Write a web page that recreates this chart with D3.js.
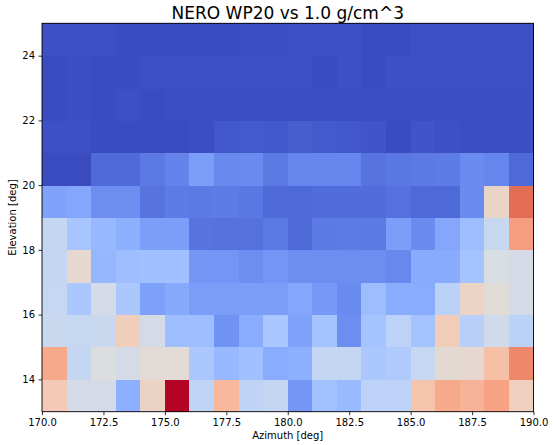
<!DOCTYPE html>
<html>
<head>
<meta charset="utf-8">
<script src="https://cdn.jsdelivr.net/npm/d3@7"></script>
<style>
  html, body { margin: 0; padding: 0; background: #fff; }
  svg { display: block; font-family: "DejaVu Sans", sans-serif; }
</style>
</head>
<body>
<svg id="chart" width="555" height="445"></svg>
<script>
// ---- data (normalized colour values) ----
const title = "NERO WP20 vs 1.0 g/cm^3";
const xLabel = "Azimuth [deg]";
const yLabel = "Elevation [deg]";
const azimuthBins = [170,171,172,173,174,175,176,177,178,179,180,181,182,183,184,185,186,187,188,189];
const elevationBins = [13,14,15,16,17,18,19,20,21,22,23,24];
const xTicks = [170, 172.5, 175, 177.5, 180, 182.5, 185, 187.5, 190];
const yTicks = [14, 16, 18, 20, 22, 24];
// rows listed bottom (13-14) to top (24-25)
const values = [
  [0.60,0.465,0.465,0.25,0.565,1.00,0.40,0.665,0.395,0.415,0.18,0.31,0.285,0.39,0.39,0.625,0.71,0.68,0.73,0.58],
  [0.71,0.415,0.495,0.47,0.52,0.52,0.335,0.28,0.305,0.24,0.25,0.415,0.415,0.335,0.35,0.42,0.525,0.535,0.64,0.795],
  [0.43,0.42,0.43,0.585,0.465,0.295,0.30,0.17,0.24,0.33,0.21,0.315,0.155,0.315,0.39,0.315,0.595,0.375,0.45,0.385],
  [0.42,0.335,0.465,0.335,0.205,0.23,0.195,0.195,0.195,0.195,0.225,0.185,0.15,0.295,0.24,0.24,0.38,0.56,0.515,0.465],
  [0.415,0.535,0.275,0.30,0.305,0.305,0.18,0.175,0.155,0.175,0.155,0.155,0.155,0.155,0.14,0.235,0.235,0.315,0.48,0.47],
  [0.415,0.325,0.28,0.25,0.20,0.20,0.09,0.085,0.085,0.105,0.065,0.105,0.11,0.105,0.20,0.15,0.225,0.295,0.425,0.74],
  [0.21,0.225,0.155,0.155,0.09,0.11,0.105,0.11,0.10,0.07,0.065,0.075,0.075,0.075,0.085,0.065,0.065,0.15,0.555,0.85],
  [0.0,0.0,0.07,0.07,0.105,0.13,0.20,0.145,0.15,0.105,0.135,0.135,0.135,0.09,0.10,0.105,0.11,0.15,0.135,0.065],
  [0.01,0.01,0.0,0.0,0.0,0.0,0.005,0.025,0.03,0.025,0.04,0.03,0.025,0.02,0.0,0.02,0.01,0.005,0.005,0.005],
  [0.0,0.005,0.0,0.01,0.0,0.005,0.005,0.005,0.005,0.005,0.005,0.005,0.005,0.005,0.005,0.005,0.005,0.005,0.005,0.005],
  [0.0,0.005,0.0,0.0,0.01,0.01,0.01,0.01,0.01,0.01,0.01,0.0,0.01,0.0,0.01,0.01,0.01,0.01,0.01,0.01],
  [0.01,0.01,0.01,0.0,0.0,0.0,0.0,0.0,0.005,0.005,0.01,0.01,0.01,0.0,0.0,0.01,0.01,0.01,0.01,0.01]
];
// coolwarm colormap stops
const cmapStops = [0,0.03125,0.0625,0.09375,0.125,0.15625,0.1875,0.21875,0.25,0.28125,0.3125,0.34375,0.375,0.40625,0.4375,0.46875,0.5,0.53125,0.5625,0.59375,0.625,0.65625,0.6875,0.71875,0.75,0.78125,0.8125,0.84375,0.875,0.90625,0.9375,0.96875,1];
const cmapColors = ["rgb(59,76,192)","rgb(68,90,204)","rgb(77,104,215)","rgb(87,117,225)","rgb(98,130,234)","rgb(108,142,241)","rgb(119,154,247)","rgb(130,165,251)","rgb(141,176,254)","rgb(152,185,255)","rgb(163,194,255)","rgb(174,201,253)","rgb(184,208,249)","rgb(194,213,244)","rgb(204,217,238)","rgb(213,219,230)","rgb(221,221,221)","rgb(229,216,209)","rgb(236,211,197)","rgb(241,204,185)","rgb(245,196,173)","rgb(247,187,160)","rgb(247,177,148)","rgb(247,166,135)","rgb(244,154,123)","rgb(241,141,111)","rgb(236,127,99)","rgb(229,112,88)","rgb(222,96,77)","rgb(213,80,66)","rgb(203,62,56)","rgb(192,40,47)","rgb(180,4,38)"];

// ---- layout ----
const mLeft = 42, mRight = 533.5, mTop = 23.3, mBottom = 411.7;
const svg = d3.select("#chart");
const x = d3.scaleLinear().domain([170, 190]).range([mLeft, mRight]);
const y = d3.scaleLinear().domain([13, 25]).range([mBottom, mTop]);
const color = d3.scaleLinear().domain(cmapStops).range(cmapColors).interpolate(d3.interpolateRgb).clamp(true);

const cells = [];
values.forEach((row, j) => row.forEach((v, i) => cells.push({az: azimuthBins[i], el: elevationBins[j], v})));

svg.append("g").selectAll("rect").data(cells).join("rect")
  .attr("x", d => x(d.az))
  .attr("y", d => y(d.el + 1))
  .attr("width", d => x(d.az + 1) - x(d.az) + 0.5)
  .attr("height", d => y(d.el) - y(d.el + 1) + 0.5)
  .attr("fill", d => color(d.v))
  .attr("shape-rendering", "crispEdges");

// frame
svg.append("rect").attr("x", mLeft).attr("y", mTop)
  .attr("width", mRight - mLeft).attr("height", mBottom - mTop)
  .attr("fill", "none").attr("stroke", "#000").attr("stroke-width", 0.9);

// axes
const xAxis = d3.axisBottom(x).tickValues(xTicks).tickFormat(d3.format(".1f")).tickSize(3.5).tickPadding(3.5);
const gx = svg.append("g").attr("transform", `translate(0,${mBottom})`).call(xAxis);
const yAxis = d3.axisLeft(y).tickValues(yTicks).tickFormat(d3.format("d")).tickSize(3.5).tickPadding(3.5);
const gy = svg.append("g").attr("transform", `translate(${mLeft},0)`).call(yAxis);
[gx, gy].forEach(g => {
  g.select(".domain").remove();
  g.selectAll(".tick line").attr("stroke", "#000").attr("stroke-width", 0.8);
  g.selectAll(".tick text").attr("fill", "#000").style("font-size", "10px").style("font-family", "DejaVu Sans");
});

// title & labels
svg.append("text").attr("x", (mLeft + mRight) / 2).attr("y", 18.5)
  .attr("text-anchor", "middle").style("font-size", "17px").attr("fill", "#000").text(title);
svg.append("text").attr("x", (mLeft + mRight) / 2).attr("y", 439)
  .attr("text-anchor", "middle").style("font-size", "10px").attr("fill", "#000").text(xLabel);
svg.append("text").attr("transform", `translate(15.5,${(mTop + mBottom) / 2}) rotate(-90)`)
  .attr("text-anchor", "middle").style("font-size", "10px").attr("fill", "#000").text(yLabel);
</script>
</body>
</html>
